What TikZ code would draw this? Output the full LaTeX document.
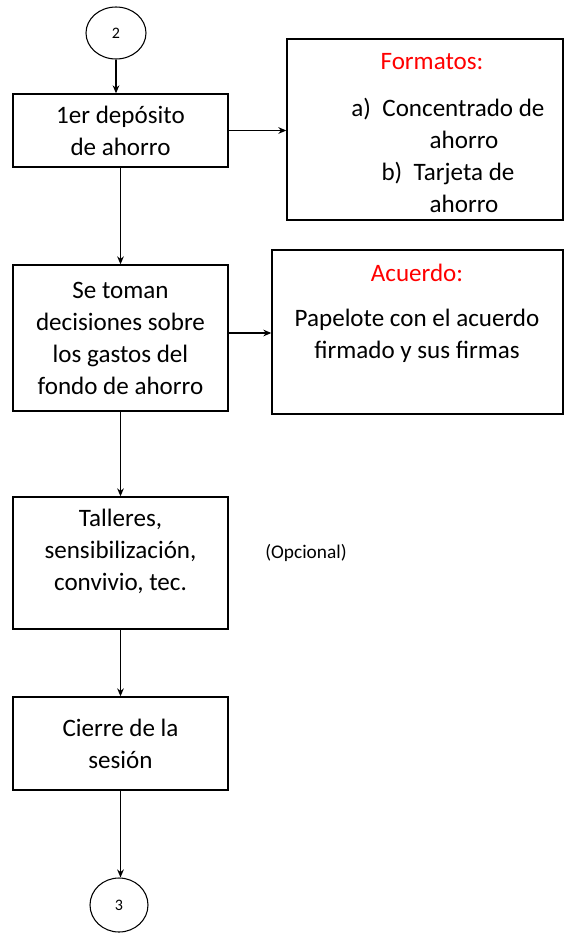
\documentclass[tikz,border=0pt]{standalone}
\usepackage{fontspec}
\setmainfont{Carlito}
\usepackage{tikz}
\usetikzlibrary{arrows,arrows.meta,shapes,positioning}
\usepackage{xcolor}
\definecolor{fcred}{RGB}{255,0,0}
\tikzstyle{arrow} = [line width=0.9pt,->,>={Stealth[length=6pt,width=5pt]}]
\tikzstyle{box} = [rectangle, draw, line width=1pt, minimum width=161.25pt, inner sep=0pt, align=center, font=\fontsize{18.8}{24}\selectfont]
\tikzstyle{notebox} = [rectangle, draw, line width=1pt, inner sep=0pt]
\tikzstyle{conector} = [ellipse, draw, line width=0.8pt, inner sep=0pt, font=\fontsize{12}{14}\selectfont]
\tikzstyle{texto} = [align=center, font=\fontsize{18.8}{24}\selectfont]

\begin{document}
\begin{tikzpicture}[x=0.75pt, y=-0.75pt]
    \useasboundingbox (0,0) rectangle (564,933);

    % Conectores
    \node[conector, minimum width=45pt, minimum height=39pt] (c2) at (116,33) {2};
    \node[conector, minimum width=43.5pt, minimum height=40.5pt] (c3) at (119,905) {3};

    % Pasos
    \node[box, minimum height=54.75pt] (b1) at (120.5,130.5) {1er depósito\\de ahorro};
    \node[box, minimum height=109.5pt] (b2) at (120.5,338) {Se toman\\decisiones sobre\\los gastos del\\fondo de ahorro};
    \node[box, minimum height=99pt] (b3) at (120.5,563) {};
    \node[texto] (t3) at (120.5,551) {Talleres,\\sensibilización,\\convivio, tec.};
    \node[box, minimum height=69.75pt] (b4) at (120.5,743.5) {Cierre de la\\sesión};

    % Notas
    \node[notebox, minimum width=207pt, minimum height=135.75pt] (fmt) at (425,129.5) {};
    \node[texto, text=fcred] (fmtt) at (432,62) {Formatos:};
    \node[texto] (fmtl) at (448,155) {a)~~Concentrado de\\\hspace*{24pt}ahorro\\b)~~Tarjeta de\\\hspace*{24pt}ahorro};

    \node[notebox, minimum width=218.25pt, minimum height=123pt] (acu) at (417.5,332) {};
    \node[texto, text=fcred] (acut) at (417,273) {Acuerdo:};
    \node[texto] (acub) at (417,336) {Papelote con el acuerdo\\firmado y sus firmas};

    \node[font=\fontsize{14.5}{17}\selectfont] (opc) at (306,553) {(Opcional)};

    % Flechas
    \draw[arrow] (c2.south) -- (c2.south |- b1.north);
    \draw[arrow] (b1) -- (b2);
    \draw[arrow] (b2) -- (b3);
    \draw[arrow] (b3) -- (b4);
    \draw[arrow] (b4.south) -- (b4.south |- c3.north);
    \draw[arrow] (b1.east) -- (b1.east -| fmt.west);
    \draw[arrow] ([yshift=3.75pt]b2.east) -- ([yshift=3.75pt]b2.east -| acu.west);
\end{tikzpicture}
\end{document}
